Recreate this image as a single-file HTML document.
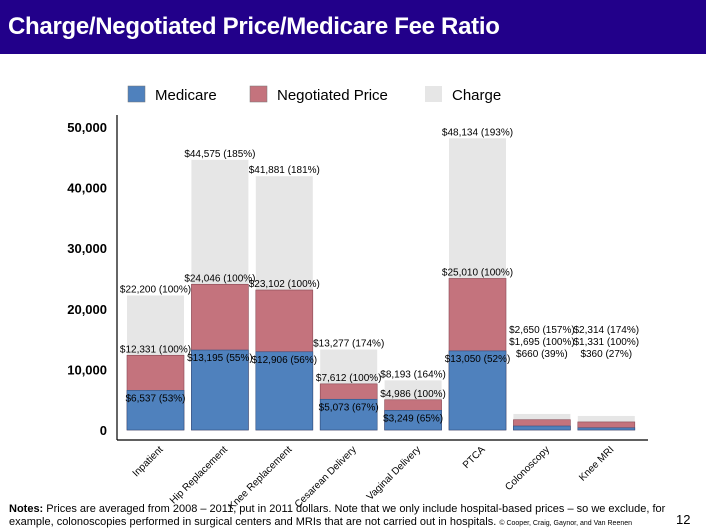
<!DOCTYPE html>
<html><head><meta charset="utf-8"><style>
body{margin:0;width:706px;height:529px;overflow:hidden;background:#fff;font-family:"Liberation Sans",sans-serif;position:relative}
#hdr{position:absolute;left:0;top:0;width:706px;height:54px;background:#22008a}
#hdr h1{margin:0;position:absolute;left:8px;top:13px;color:#fff;font-size:24px;font-weight:bold;letter-spacing:-0.3px}
#notes{position:absolute;left:9px;top:503px;font-size:11px;line-height:13px;color:#000;width:690px}
#pg{position:absolute;left:676px;top:512px;font-size:13px}
</style></head><body>
<div id="hdr"><h1>Charge/Negotiated Price/Medicare Fee Ratio</h1></div>
<svg id="chart" width="706" height="529" style="position:absolute;left:0;top:0"></svg>
<div id="notes"><b>Notes:</b> Prices are averaged from 2008 – 2011, put in 2011 dollars. Note that we only include hospital-based prices – so we exclude, for example, colonoscopies performed in surgical centers and MRIs that are not carried out in hospitals. <span style="font-size:7px">© Cooper, Craig, Gaynor, and Van Reenen</span></div>
<div id="pg">12</div>
<script>
const categories=["Inpatient","Hip Replacement","Knee Replacement","Cesarean Delivery","Vaginal Delivery","PTCA","Colonoscopy","Knee MRI"];
const medicare=[6537,13195,12906,5073,3249,13050,660,360];
const negotiated=[12331,24046,23102,7612,4986,25010,1695,1331];
const charge=[22200,44575,41881,13277,8193,48134,2650,2314];
const medLabels=["$6,537 (53%)","$13,195 (55%)","$12,906 (56%)","$5,073 (67%)","$3,249 (65%)","$13,050 (52%)","$660 (39%)","$360 (27%)"];
const negLabels=["$12,331 (100%)","$24,046 (100%)","$23,102 (100%)","$7,612 (100%)","$4,986 (100%)","$25,010 (100%)","$1,695 (100%)","$1,331 (100%)"];
const chgLabels=["$22,200 (100%)","$44,575 (185%)","$41,881 (181%)","$13,277 (174%)","$8,193 (164%)","$48,134 (193%)","$2,650 (157%)","$2,314 (174%)"];
const yTicks=[0,10000,20000,30000,40000,50000];
const seriesNames=["Medicare","Negotiated Price","Charge"];
const colors=["#4f81bd","#c4737d","#e6e6e6"];
const svg=document.getElementById('chart');const NS="http://www.w3.org/2000/svg";
function el(t,a){const e=document.createElementNS(NS,t);for(const k in a)e.setAttribute(k,a[k]);svg.appendChild(e);return e;}
const y0=430,yTop=127,x0=117;
function y(v){return y0-(v/50000)*(y0-yTop);}
function x(i){return 127+i*64.4;}
const bw=57;
let ax=el('line',{x1:x0,y1:115,x2:x0,y2:440,stroke:'#000','stroke-width':1.2});

let bx=el('line',{x1:x0,y1:440,x2:648,y2:440,stroke:'#000','stroke-width':1.2});

yTicks.forEach(v=>{const t=el('text',{x:107,y:y(v)+5,'text-anchor':'end','font-size':13,'font-weight':'bold',fill:'#000'});t.textContent=v.toLocaleString('en-US');
});
const lx=[128,250,425];
seriesNames.forEach((n,i)=>{const r=el('rect',{x:lx[i],y:86,width:17,height:16,fill:colors[i],stroke:i==2?'none':'#777','stroke-width':0.5});

const t=el('text',{x:lx[i]+27,y:100,'font-size':15,fill:'#000'});t.textContent=n;
});
function lab(txt,cx,yy){const t=el('text',{x:cx,y:yy,'text-anchor':'middle','font-size':10,fill:'#000'});t.textContent=txt;
}
categories.forEach((c,i)=>{const xx=x(i),cx=xx+bw/2;
let r=el('rect',{x:xx,y:y(charge[i]),width:bw,height:y0-y(charge[i]),fill:colors[2]});

r=el('rect',{x:xx,y:y(negotiated[i]),width:bw,height:y0-y(negotiated[i]),fill:colors[1],stroke:'#8a4a55','stroke-width':0.6});

r=el('rect',{x:xx,y:y(medicare[i]),width:bw,height:y0-y(medicare[i]),fill:colors[0],stroke:'#2f4f80','stroke-width':0.6});

if(i<6){lab(chgLabels[i],cx,y(charge[i])-3);lab(negLabels[i],cx,y(negotiated[i])-3);lab(medLabels[i],cx,y(medicare[i])+11);}
else{lab(chgLabels[i],cx,333);lab(negLabels[i],cx,345);lab(medLabels[i],cx,357);}
const t=el('text',{x:cx+8,y:450,'text-anchor':'end','font-size':10,fill:'#000',transform:`rotate(-45 ${cx+8} 450)`});t.textContent=c;
});
</script>
</body></html>
